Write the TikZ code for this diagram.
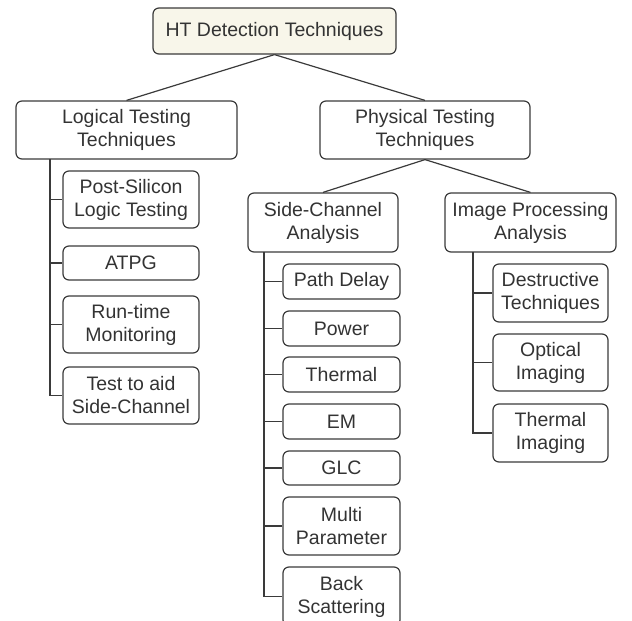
\documentclass[tikz,border=0pt]{standalone}
\usepackage{fontspec}
\setmainfont{Liberation Sans}
\definecolor{edge}{HTML}{3A3A3A}
\definecolor{ink}{HTML}{333333}
\definecolor{rootfill}{HTML}{F8F6EA}
\tikzset{
  box/.style={draw=edge, line width=1.2pt, rounded corners=6pt, align=center,
    inner sep=0pt, text=ink, font=\fontsize{19.5}{23}\selectfont},
  link/.style={draw=edge, line width=1.2pt},
}
\newcommand{\bx}[6]{% name, x0, x1, y0, y1, text
  \node[box, minimum width={#3-#2}, minimum height={#5-#4}] (#1) at ({(#2+#3)/2},{(#4+#5)/2}) {#6};}
\begin{document}
\begin{tikzpicture}[x=1pt,y=-1pt]
\useasboundingbox (0,0) rectangle (632,621);
\clip (0,0) rectangle (632,621);

% top level
\node[box, fill=rootfill, minimum width=243, minimum height=46] (root) at (274.5,31) {HT Detection Techniques};
\bx{logical}{16}{237}{101}{159}{Logical Testing\\Techniques}
\bx{physical}{320}{530}{101}{159}{Physical Testing\\Techniques}
\bx{side}{248}{398}{193}{252}{Side-Channel\\Analysis}
\bx{image}{445}{616}{193}{252}{Image Processing\\Analysis}

% logical testing branch
\bx{post}{63}{199}{171}{228}{Post-Silicon\\Logic Testing}
\bx{atpg}{63}{199}{246}{280}{ATPG}
\bx{runtime}{63}{199}{296}{353}{Run-time\\Monitoring}
\bx{aid}{63}{199}{367}{424}{Test to aid\\Side-Channel}

% side-channel branch
\bx{path}{283}{400}{264}{299}{Path Delay}
\bx{power}{283}{400}{311}{346}{Power}
\bx{thermal}{283}{400}{357}{392}{Thermal}
\bx{em}{283}{400}{404}{439}{EM}
\bx{glc}{283}{400}{451}{485}{GLC}
\bx{multi}{283}{400}{497}{555}{Multi\\Parameter}
\bx{back}{283}{400}{567}{626}{Back\\Scattering}

% image processing branch
\bx{destr}{493}{608}{264}{322}{Destructive\\Techniques}
\bx{optical}{493}{608}{334}{391}{Optical\\Imaging}
\bx{thimg}{493}{608}{404}{462}{Thermal\\Imaging}

% tree edges
\draw[link] (root.south) -- (logical.north);
\draw[link] (root.south) -- (physical.north);
\draw[link] (physical.south) -- (side.north);
\draw[link] (physical.south) -- (image.north);

% trunks
\coordinate (lt) at (50,159);
\coordinate (st) at (264,252);
\coordinate (it) at (473,252);

\draw[link] (lt) |- (aid.west);
\foreach \c in {post,atpg,runtime}
  \draw[link] (lt |- \c.west) -- (\c.west);

\draw[link] (st) |- (back.west);
\foreach \c in {path,power,thermal,em,glc,multi}
  \draw[link] (st |- \c.west) -- (\c.west);

\draw[link] (it) |- (thimg.west);
\foreach \c in {destr,optical}
  \draw[link] (it |- \c.west) -- (\c.west);
\end{tikzpicture}
\end{document}
